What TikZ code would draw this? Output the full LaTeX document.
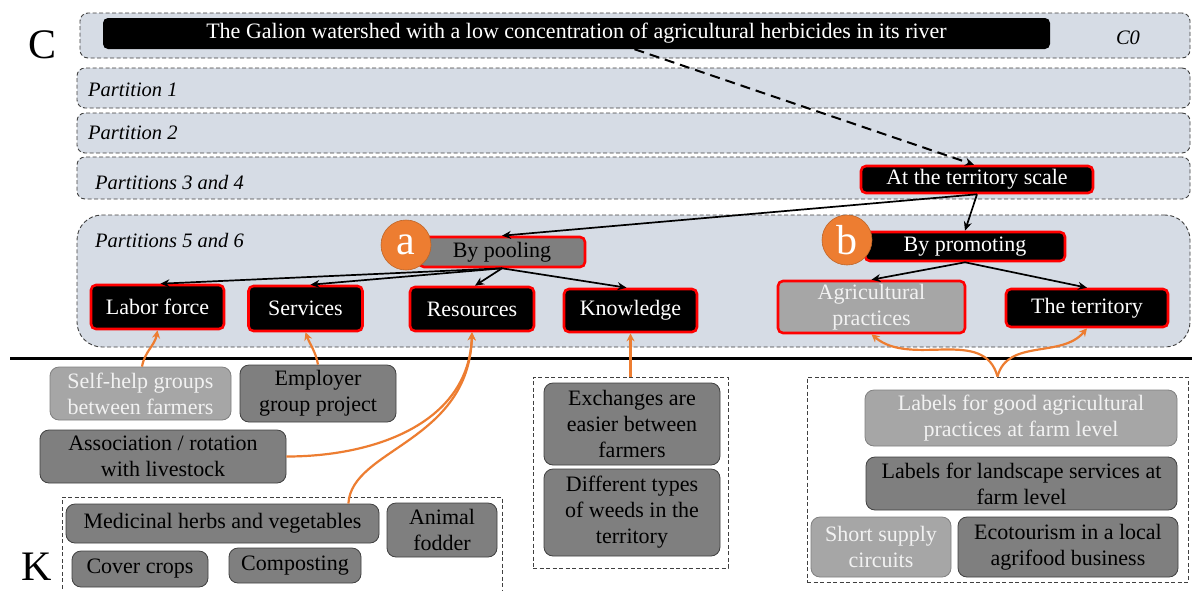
\documentclass[tikz,border=0pt]{standalone}
\usepackage{fontspec}
\setmainfont{Liberation Serif}
\usetikzlibrary{arrows.meta,calc}
\definecolor{bandfill}{HTML}{D6DCE5}
\definecolor{dgray}{HTML}{7F7F7F}
\definecolor{lgray}{HTML}{A6A6A6}
\definecolor{borderg}{HTML}{404040}
\definecolor{orng}{HTML}{ED7D31}
\definecolor{ltext}{HTML}{F2F2F2}
\begin{document}
\begin{tikzpicture}[x=1pt,y=-1pt,
  font=\fontsize{22}{26}\selectfont,
  band/.style={draw=borderg, dash pattern=on 4pt off 2.5pt, line width=0.9pt, fill=bandfill, rounded corners=8pt, inner sep=0pt},
  redbox/.style={draw=red, line width=2.6pt, rounded corners=5pt, fill=black, text=white, inner sep=0pt, align=center},
  kbox/.style={draw=borderg, line width=0.8pt, rounded corners=9pt, fill=dgray, text=black, inner sep=0pt, align=center, font=\fontsize{22}{26}\selectfont},
  kboxl/.style={kbox, fill=lgray, draw=gray, text=ltext},
  dbox/.style={draw=borderg, dash pattern=on 4pt off 2.5pt, line width=0.9pt, inner sep=0pt},
  barrow/.style={-{Stealth[length=9pt,width=8pt]}, line width=1.7pt},
  oarrow/.style={-{Stealth[length=8pt,width=8pt]}, line width=2.2pt, draw=orng},
  circ/.style={circle, fill=orng, draw=orng!80!black, line width=0.6pt, text=white, minimum size=50pt, inner sep=0pt, font=\fontsize{42}{42}\selectfont},
  plabel/.style={font=\fontsize{20.5}{24}\selectfont\itshape, anchor=west, inner sep=0pt},
  big/.style={font=\fontsize{42}{42}\selectfont, inner sep=0pt},
]
\useasboundingbox (0,0) rectangle (1192,590);
\fill[white] (0,0) rectangle (1192,590);

% bands
\node[band, minimum width=1110pt, minimum height=45pt] (b0) at (635,35.5) {};
\node[band, minimum width=1113pt, minimum height=40pt] (b1) at (633.5,88) {};
\node[band, minimum width=1113pt, minimum height=40pt] (b2) at (633.5,133) {};
\node[band, minimum width=1113pt, minimum height=42pt] (b3) at (633.5,178) {};
\node[band, rounded corners=25pt, minimum width=1113pt, minimum height=132pt] (b56) at (633.5,281) {};

\node[plabel] (p1) at (88,90) {Partition 1};
\node[plabel] (p2) at (88,133) {Partition 2};
\node[plabel] (p34) at (95,182) {Partitions 3 and 4};
\node[plabel] (p56) at (95,240) {Partitions 5 and 6};
\node[plabel, anchor=center] (c0) at (1128,38) {C0};

\node[big] (C) at (43,45) {C};
\node[big] (K) at (37,567) {K};

% C0
\node[fill=black, rounded corners=5pt, text=white, minimum width=947pt, minimum height=31pt, inner sep=0pt] (galion) at (576.5,33.5) {The Galion watershed with a low concentration of agricultural herbicides in its river};

% upper nodes
\node[redbox, minimum width=232pt, minimum height=27pt] (terr) at (977,179.5) {At the territory scale};
\node[redbox, fill=dgray, text=black, minimum width=166pt, minimum height=30pt] (pool) at (502,252) {By pooling};
\node[redbox, minimum width=200pt, minimum height=29pt] (prom) at (965,246.5) {By promoting};
\node[redbox, minimum width=133pt, minimum height=44pt] (labor) at (157.5,307) {Labor force};
\node[redbox, minimum width=114pt, minimum height=45pt] (serv) at (305.5,308.5) {Services};
\node[redbox, minimum width=124pt, minimum height=44pt] (res) at (472,309) {Resources};
\node[redbox, minimum width=133pt, minimum height=43pt] (know) at (630.5,310.5) {Knowledge};
\node[redbox, fill=lgray, text=ltext, minimum width=187pt, minimum height=52pt] (agri) at (871.5,307) {Agricultural\\practices};
\node[redbox, minimum width=162pt, minimum height=38pt] (terri) at (1087,308) {The territory};

\node[circ] (ca) at (406,245) {a};
\node[circ] (cb) at (847,240) {b};

% black arrows
\draw[barrow, dash pattern=on 10pt off 6pt, line width=2pt] ([xshift=58pt]galion.south) -- ([xshift=-3pt]terr.north);
\draw[barrow] (terr.south) -- (pool.north);
\draw[barrow] (terr.south) -- (prom.north);
\draw[barrow] (pool.south) -- ([xshift=3pt]labor.north);
\draw[barrow] (pool.south) -- ([xshift=5pt]serv.north);
\draw[barrow] (pool.south) -- ([xshift=3pt]res.north);
\draw[barrow] (pool.south) -- ([xshift=-4pt]know.north);
\draw[barrow] (prom.south) -- (agri.north);
\draw[barrow] (prom.south) -- (terri.north);

% separator
\coordinate (sepL) at (10,358);
\coordinate (sepR) at (1192,358);
\draw[line width=3pt] (sepL) -- (sepR);

% bottom-left knowledge
\node[kboxl, minimum width=181pt, minimum height=53pt] (self) at (140.5,393.5) {Self-help groups\\between farmers};
\node[kbox, minimum width=156pt, minimum height=57pt] (empl) at (318,393.5) {Employer\\group project};
\node[kbox, minimum width=246pt, minimum height=53pt] (assoc) at (163,456.5) {Association / rotation\\with livestock};
\coordinate (kbl) at (62,595);
\coordinate (kbr) at (502,595);
\draw[dbox] (kbl) -- (62,497) -- (502,497) -- (kbr);
\node[kbox, minimum width=313pt, minimum height=39pt] (medic) at (222.5,523.5) {Medicinal herbs and vegetables};
\node[kbox, minimum width=110pt, minimum height=54pt] (fodder) at (442,530) {Animal\\fodder};
\node[kbox, minimum width=136pt, minimum height=36pt] (cover) at (140,569) {Cover crops};
\node[kbox, minimum width=132pt, minimum height=35pt] (compost) at (295,565.5) {Composting};

% middle
\node[dbox, minimum width=195pt, minimum height=191pt] (midbox) at (630.5,472.5) {};
\node[kbox, minimum width=176pt, minimum height=82pt] (exch) at (632,424) {Exchanges are\\easier between\\farmers};
\node[kbox, minimum width=176pt, minimum height=87pt] (diff) at (632,512.5) {Different types\\of weeds in the\\territory};

% right
\node[dbox, minimum width=381pt, minimum height=205pt] (rbox) at (997.5,479.5) {};
\node[kboxl, minimum width=312pt, minimum height=56pt] (lgood) at (1021,418) {Labels for good agricultural\\practices at farm level};
\node[kbox, minimum width=311pt, minimum height=53pt] (lland) at (1021.5,483.5) {Labels for landscape services at\\farm level};
\node[kboxl, minimum width=140pt, minimum height=60pt] (short) at (881,547) {Short supply\\circuits};
\node[kbox, minimum width=220pt, minimum height=60pt] (eco) at (1068,547) {Ecotourism in a local\\agrifood business};

% orange arrows
\draw[oarrow] ([xshift=1.5pt]self.north) to[out=80,in=-100] (labor.south);
\draw[oarrow] (empl.north) to[out=100,in=-70] (serv.south);
\draw[oarrow] (assoc.east) .. controls +(90,0) and +(-3,90) .. (res.south);
\draw[oarrow] ([xshift=-31pt]medic.north east) .. controls +(3,-55) and +(-3,110) .. (res.south);
\draw[oarrow] (midbox.north) -- (know.south);
\draw[oarrow] (rbox.north) to[out=105,in=-40] (agri.south);
\draw[oarrow] (rbox.north) to[out=75,in=-130] (terri.south);
\end{tikzpicture}
\end{document}
